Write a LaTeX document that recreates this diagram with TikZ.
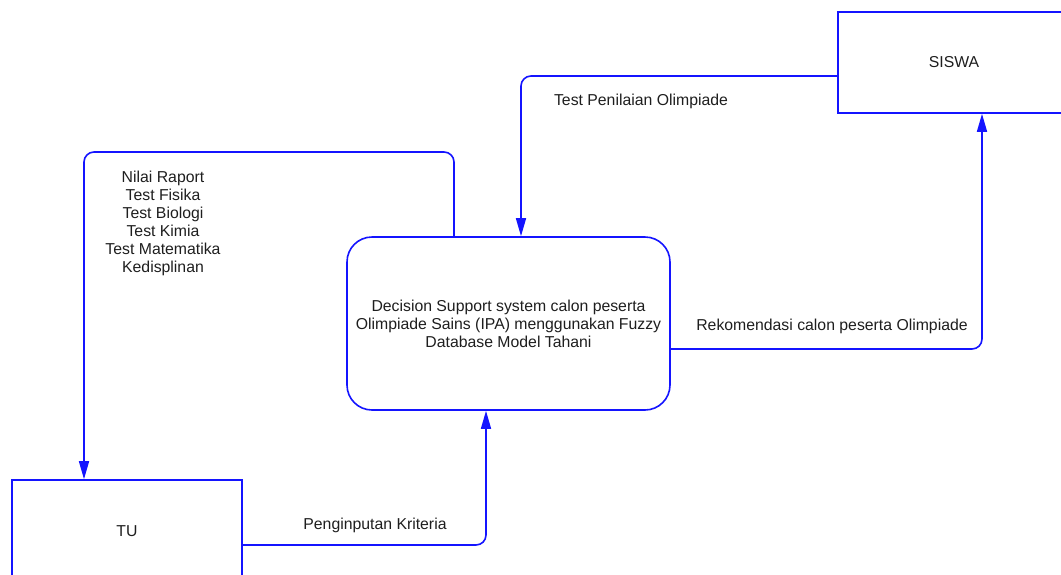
\documentclass[tikz,border=0pt]{standalone}
\usepackage{fontspec}
\setmainfont{Liberation Sans}
\usetikzlibrary{arrows.meta}
\definecolor{flowblue}{RGB}{20,20,255}
\definecolor{inkgray}{RGB}{30,30,30}
\begin{document}
\begin{tikzpicture}[x=1pt,y=-1pt,
  every node/.style={font=\fontsize{15.8}{18}\selectfont, text=inkgray},
  entity/.style={draw=flowblue, line width=1.6pt, rectangle, inner sep=0pt},
  process/.style={draw=flowblue, line width=1.6pt, rounded corners=25pt, inner sep=0pt, align=center},
  flow/.style={draw=flowblue, line width=1.6pt, rounded corners=10pt, -{Triangle[length=18pt,width=10pt]}},
  lbl/.style={inner sep=0pt, align=center}]
\useasboundingbox (0,0) rectangle (1061,574);

% external entities and the process
\node[entity, minimum width=232pt, minimum height=101pt] (siswa) at (954,62.5) {SISWA};
\node[entity, minimum width=230pt, minimum height=102pt] (tu) at (127,531) {TU};
\node[process, minimum width=323pt, minimum height=173pt] (dss) at (508.5,323.5)
  {Decision Support system calon peserta\\Olimpiade Sains (IPA) menggunakan Fuzzy\\Database Model Tahani};

% bend points of the data flows
\coordinate (b1) at (521,76);
\coordinate (b2) at (454,152);
\coordinate (b3) at (84,152);
\coordinate (b4) at (486,545);
\coordinate (b5) at (982,349);

% data flows
\draw[flow] (siswa.west |- b1) -- (b1) -- (b1 |- dss.north);
\draw[flow] (b2 |- dss.north) -- (b2) -- (b3) -- (b3 |- tu.north);
\draw[flow] (tu.east |- b4) -- (b4) -- (b4 |- dss.south);
\draw[flow] (dss.east |- b5) -- (b5) -- (b5 |- siswa.south);

% flow labels
\node[lbl] (l1) at (641,101) {Test Penilaian Olimpiade};
\node[lbl] (l2) at (163,223) {Nilai Raport\\Test Fisika\\Test Biologi\\Test Kimia\\Test Matematika\\Kedisplinan};
\node[lbl] (l3) at (375,525) {Penginputan Kriteria};
\node[lbl] (l4) at (832,326) {Rekomendasi calon peserta Olimpiade};
\end{tikzpicture}
\end{document}
